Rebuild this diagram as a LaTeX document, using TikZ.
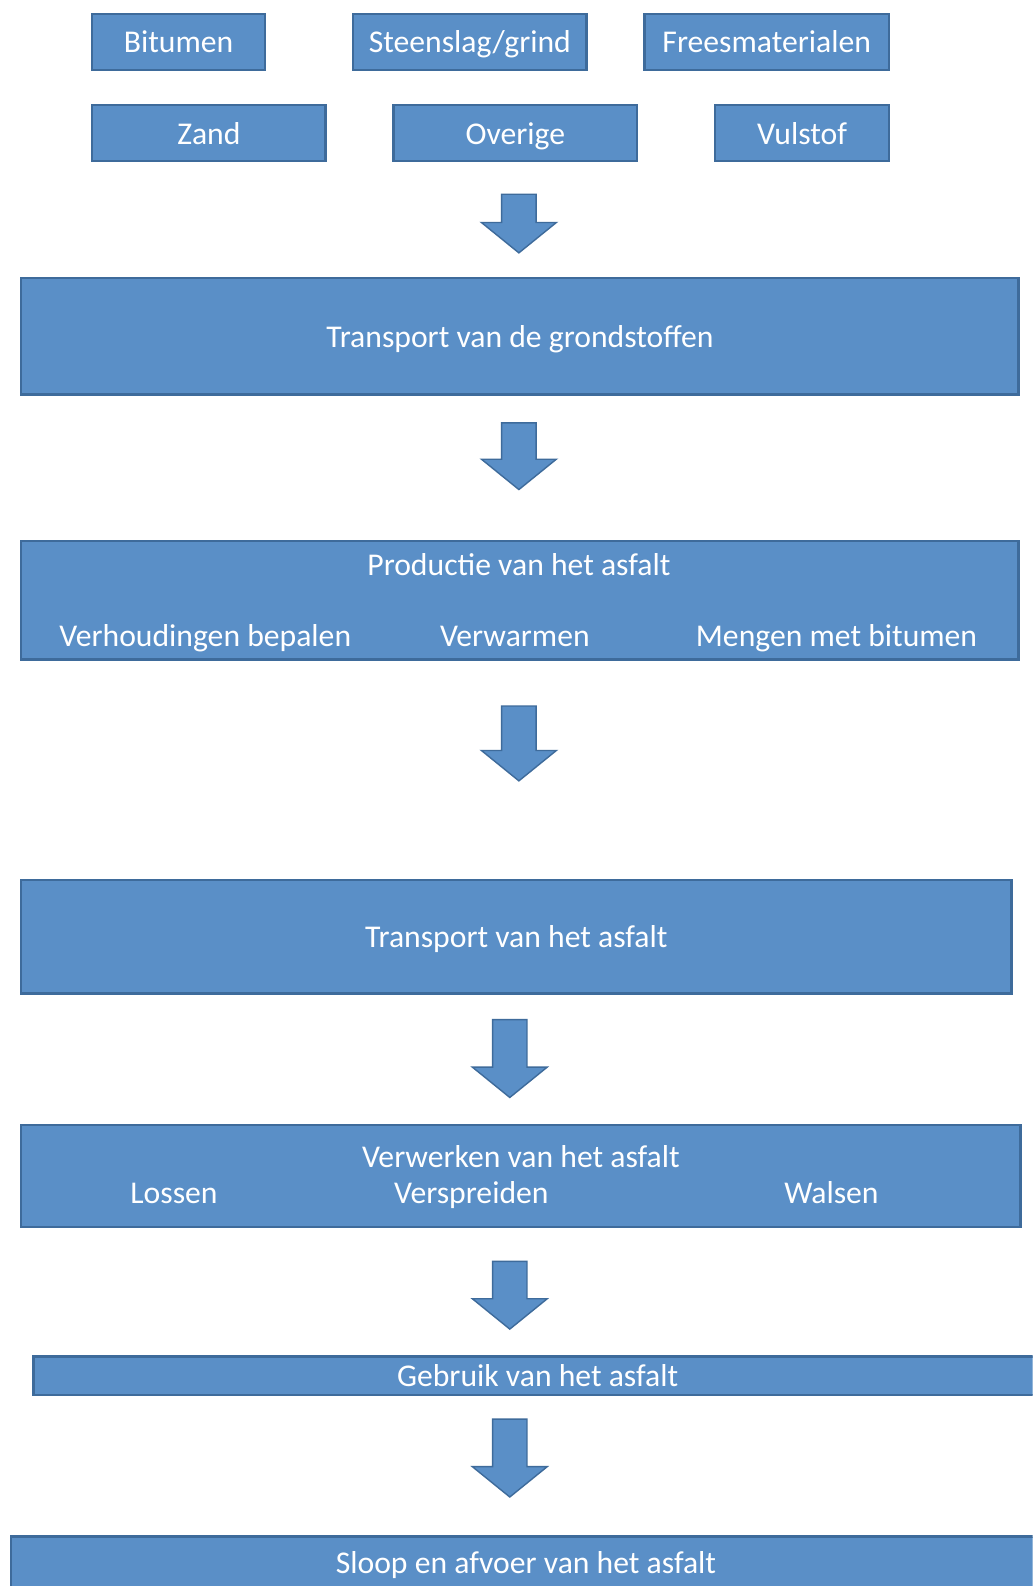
\documentclass[tikz,border=0pt]{standalone}
\usepackage{fontspec}
\setmainfont{Carlito}
\usepackage{tikz}
\usetikzlibrary{positioning, calc}
\usepackage{xcolor}
\definecolor{boxblue}{HTML}{5A8FC7}
\definecolor{boxedge}{HTML}{3E6B9B}

\newcommand{\pxu}{0.0202cm}

\tikzset{
    box/.style 2 args={fill=boxblue, draw=boxedge, line width=1.4pt, text=white,
        minimum width=#1*\pxu, minimum height=#2*\pxu, inner sep=0pt,
        text height=16.5pt, text depth=4pt,
        font=\fontsize{18}{21}\selectfont},
    label/.style={text=white, inner sep=0pt, text height=16.5pt, text depth=4pt,
        font=\fontsize{18}{21}\selectfont},
    pics/downarrow/.style={code={
        \path[fill=boxblue, draw=boxedge, line width=0.8pt, line join=miter]
            (-17,0) -- (17,0) -- (17,{#1-30}) -- (37,{#1-30}) -- (0,#1)
            -- (-37,{#1-30}) -- (-17,{#1-30}) -- cycle;
    }}
}

\begin{document}
\begin{tikzpicture}[x=\pxu, y=-\pxu]
    \clip (0,0) rectangle (1021,1568);
    \fill[white] (0,0) rectangle (1021,1568);

    % grondstoffen
    \node[box={171}{55}] (bitumen) at (176.5,41.5) {Bitumen};
    \node[box={231}{55}] (steenslag) at (464.5,41.5) {Steenslag/grind};
    \node[box={242}{55}] (frees) at (758,41.5) {Freesmaterialen};
    \node[box={231}{55}] (zand) at (206.5,131.5) {Zand};
    \node[box={241}{55}] (overige) at (509.5,131.5) {Overige};
    \node[box={172}{55}] (vulstof) at (793,131.5) {Vulstof};

    \pic at (513,192) {downarrow=58};

    \node[box={986}{115}] (transgrond) at (514,332.5) {Transport van de grondstoffen};

    \pic at (513,418) {downarrow=66};

    % productie
    \node[box={986}{117}] (productie) at (514,593.5) {};
    \node[label] (prodtitle) at (513,558) {Productie van het asfalt};
    \node[label] (verhouding) at (203,628) {Verhoudingen bepalen};
    \node[label] (verwarmen) at (509,628) {Verwarmen};
    \node[label] (mengen) at (827,628) {Mengen met bitumen};

    \pic at (513,698) {downarrow=74};

    \node[box={979}{112}] (transasfalt) at (510.5,926) {Transport van het asfalt};

    \pic at (504,1008) {downarrow=77};

    % verwerken
    \node[box={988}{101}] (verwerken) at (515,1162.5) {};
    \node[label] (verwtitle) at (515,1143) {Verwerken van het asfalt};
    \node[label] (lossen) at (172,1179) {Lossen};
    \node[label] (verspreiden) at (466,1179) {Verspreiden};
    \node[label] (walsen) at (822,1179) {Walsen};

    \pic at (504,1247) {downarrow=67};

    \node[box={997}{38}] (gebruik) at (531.5,1360) {Gebruik van het asfalt};

    \pic at (504,1403) {downarrow=77};

    \node[box={1019}{62}, anchor=north] (sloop) at (520.5,1518) {};
    \node[label] (slooptext) at (520,1545) {Sloop en afvoer van het asfalt};
\end{tikzpicture}
\end{document}
